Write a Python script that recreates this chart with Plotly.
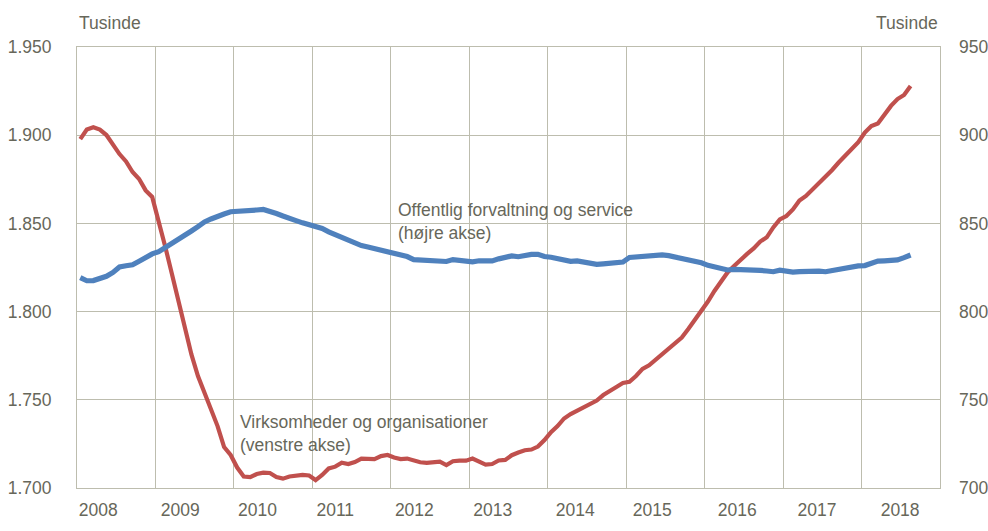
import plotly.graph_objects as go

# Monthly observations (index 0 = first month of 2008)
virksomheder = [
    1897.8, 1903.2, 1904.5, 1903.2, 1900.1, 1894.7, 1889.3, 1885.1, 1879.1, 1875.2,
    1868.7, 1865.0, 1851.9, 1836.8, 1821.6, 1806.0, 1790.4, 1775.7, 1763.5, 1754.1,
    1744.8, 1735.1, 1723.2, 1718.7, 1711.6, 1706.5, 1706.2, 1707.9, 1708.7, 1708.5,
    1706.2, 1705.3, 1706.5, 1706.8, 1707.4, 1707.1, 1704.5, 1707.4, 1711.1, 1712.1,
    1714.3, 1713.6, 1714.7, 1716.7, 1716.8, 1716.4, 1718.1, 1718.7, 1717.3, 1716.4,
    1716.7, 1715.5, 1714.6, 1714.3, 1714.3, 1714.9, 1713.0, 1715.2, 1715.5, 1715.5,
    1716.7, 1715.0, 1713.3, 1713.6, 1715.6, 1715.9, 1718.6, 1720.1, 1721.4, 1721.8,
    1723.5, 1727.2, 1731.7, 1735.1, 1739.4, 1741.9, 1743.9, 1746.2, 1748.2, 1749.6,
    1752.7, 1755.3, 1757.3, 1759.5, 1760.2, 1763.5, 1767.5, 1769.6, 1772.8, 1776.2,
    1779.4, 1782.5, 1785.3, 1790.1, 1795.0, 1799.9, 1805.7, 1811.7, 1816.8, 1822.2,
    1825.9, 1829.5, 1832.7, 1835.8, 1839.7, 1842.1, 1847.7, 1852.2, 1854.2, 1857.9,
    1863.0, 1865.6, 1869.2, 1873.5, 1876.6, 1880.3, 1884.5, 1888.2, 1892.2, 1896.1,
    1901.5, 1905.2, 1906.6, 1911.5, 1916.6, 1920.5, 1922.8, 1927.9,
]

offentlig = [
    819.3, 817.5, 817.6, 819.0, 820.0, 822.2, 825.3, 826.0, 826.5, 828.5,
    830.7, 832.7, 834.0, 836.2, 838.7, 841.0, 843.1, 845.7, 848.2, 850.8,
    852.5, 853.6, 855.3, 856.6, 856.7, 857.4, 857.6, 857.6, 857.9, 857.0,
    855.6, 854.2, 852.6, 851.6, 850.3, 849.4, 848.5, 847.1, 845.2, 843.7,
    842.2, 840.0, 838.6, 837.4, 836.6, 835.8, 834.9, 834.0, 833.3, 832.5,
    831.2, 829.5, 829.3, 829.1, 828.7, 828.0, 828.4, 829.5, 829.3, 828.4,
    828.2, 828.8, 828.7, 828.7, 829.9, 830.6, 831.6, 831.1, 831.9, 832.4,
    832.5, 831.2, 830.8, 830.2, 829.3, 828.5, 828.7, 828.1, 827.0, 826.8,
    827.1, 827.4, 827.1, 828.1, 830.7, 831.1, 831.5, 831.5, 831.6, 832.2,
    831.7, 831.0, 830.1, 829.5, 828.7, 827.7, 826.2, 825.2, 824.5, 823.6,
    823.9, 823.9, 823.6, 823.6, 823.4, 823.0, 822.6, 823.5, 822.6, 822.4,
    822.7, 823.0, 823.0, 822.9, 822.6, 823.4, 824.1, 824.7, 825.6, 825.9,
    826.1, 827.6, 828.6, 828.8, 829.0, 829.3, 830.6, 832.1,
]

months = list(range(len(virksomheder)))
year_labels = ["2008", "2009", "2010", "2011", "2012", "2013",
               "2014", "2015", "2016", "2017", "2018"]
year_label_pos = [2.75, 15.3, 27.1, 39.0, 51.1, 63.1, 75.7, 87.5, 100.5, 112.7, 125.4]

TXT = "#67675a"
GRID = "#bdbdae"
FONT = "Liberation Sans, Arial, sans-serif"
FS = 17.5
XR = [-0.5, 131.5]

fig = go.Figure()
fig.add_trace(go.Scatter(x=months, y=virksomheder, mode="lines", xaxis="x", yaxis="y",
                         line=dict(color="#c0504d", width=4.2), hoverinfo="skip"))
fig.add_trace(go.Scatter(x=months, y=offentlig, mode="lines", xaxis="x", yaxis="y2",
                         line=dict(color="#4f81bd", width=5.2), hoverinfo="skip"))
# invisible trace so the label axis is rendered
fig.add_trace(go.Scatter(x=[months[0]], y=[virksomheder[0]], xaxis="x2", yaxis="y",
                         mode="markers", marker=dict(opacity=0), hoverinfo="skip"))

fig.update_layout(
    width=988, height=531,
    margin=dict(l=77, r=48, t=47, b=43),
    paper_bgcolor="white", plot_bgcolor="white",
    showlegend=False,
    separators=",.",
    font=dict(family=FONT, size=FS, color=TXT),
    xaxis=dict(range=XR, tick0=-0.5, dtick=12, showgrid=True, gridcolor=GRID, gridwidth=1,
               showticklabels=False, ticks="", zeroline=False, automargin=False,
               showline=True, linecolor=GRID, linewidth=1, mirror=True),
    xaxis2=dict(range=XR, overlaying="x", side="bottom", tickmode="array",
                tickvals=year_label_pos, ticktext=year_labels, showgrid=False,
                ticks="", zeroline=False, showline=False, automargin=False,
                ticklabelstandoff=9,
                tickfont=dict(family=FONT, size=FS, color=TXT)),
    yaxis=dict(range=[1700, 1950], dtick=50, tick0=1700, tickformat=",d",
               showgrid=True, gridcolor=GRID, gridwidth=1, zeroline=False,
               ticks="", ticklabelstandoff=21, automargin=False,
               showline=True, linecolor=GRID, linewidth=1, mirror=True,
               tickfont=dict(family=FONT, size=FS, color=TXT)),
    yaxis2=dict(range=[700, 950], dtick=50, tick0=700, overlaying="y", side="right",
                showgrid=False, zeroline=False, ticks="", ticklabelstandoff=18,
                automargin=False,
                tickfont=dict(family=FONT, size=FS, color=TXT)),
)

fig.add_annotation(text="Tusinde", xref="paper", yref="paper", x=0, y=1,
                   xanchor="left", yanchor="bottom", yshift=12, showarrow=False,
                   font=dict(family=FONT, size=FS, color=TXT))
fig.add_annotation(text="Tusinde", xref="paper", yref="paper", x=1, y=1,
                   xanchor="right", yanchor="bottom", yshift=12, showarrow=False,
                   font=dict(family=FONT, size=FS, color=TXT))
fig.add_annotation(text="Offentlig forvaltning og service<br>(højre akse)",
                   xref="x", yref="y", x=48.3, y=1851, xanchor="left", yanchor="middle",
                   align="left", showarrow=False,
                   font=dict(family=FONT, size=FS, color=TXT))
fig.add_annotation(text="Virksomheder og organisationer<br>(venstre akse)",
                   xref="x", yref="y", x=24.2, y=1744.5, xanchor="left", yanchor="top",
                   align="left", showarrow=False,
                   font=dict(family=FONT, size=FS, color=TXT))

fig.write_html("out.html")
